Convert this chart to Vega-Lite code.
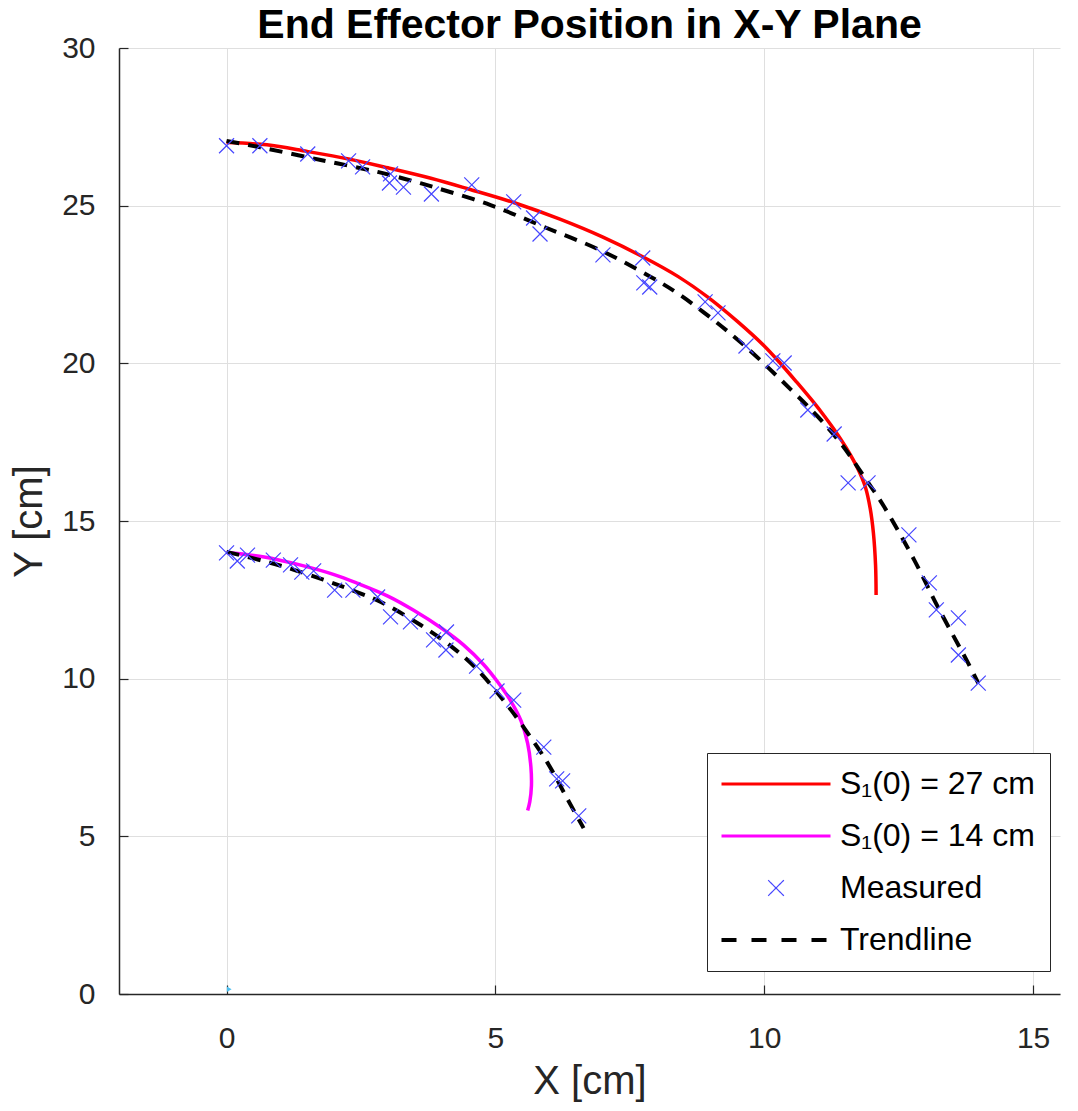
{
  "$schema": "https://vega.github.io/schema/vega-lite/v6.json",
  "autosize": {"type": "none"},
  "padding": {"left": 119, "top": 48, "right": 18, "bottom": 117},
  "width": 941,
  "height": 946,
  "background": "white",
  "title": {"text": "End Effector Position in X-Y Plane", "font": "Liberation Sans", "fontSize": 41, "fontWeight": "bold", "color": "#000000", "anchor": "middle", "frame": "group", "offset": 2, "dy": 16},
  "config": {
    "view": {"stroke": null},
    "axis": {
      "labelFont": "Liberation Sans", "titleFont": "Liberation Sans",
      "labelColor": "#262626", "titleColor": "#262626",
      "labelFontSize": 30, "titleFontSize": 40, "titleFontWeight": "normal",
      "grid": true, "gridColor": "#DFDFDF", "gridWidth": 1,
      "domainColor": "#262626", "domainWidth": 1.5,
      "tickColor": "#262626", "tickSize": -9, "tickWidth": 1.2
    }
  },
  "datasets": {
    "curves": [
      {"series": "S₁(0) = 27 cm", "part": "a", "x": 0, "y": 27.0},
      {"series": "S₁(0) = 27 cm", "part": "a", "x": 0.75, "y": 26.93},
      {"series": "S₁(0) = 27 cm", "part": "a", "x": 1.5, "y": 26.72},
      {"series": "S₁(0) = 27 cm", "part": "a", "x": 2.27, "y": 26.48},
      {"series": "S₁(0) = 27 cm", "part": "a", "x": 3.0, "y": 26.2},
      {"series": "S₁(0) = 27 cm", "part": "a", "x": 3.8, "y": 25.87},
      {"series": "S₁(0) = 27 cm", "part": "a", "x": 4.5, "y": 25.53},
      {"series": "S₁(0) = 27 cm", "part": "a", "x": 5.34, "y": 25.1},
      {"series": "S₁(0) = 27 cm", "part": "a", "x": 6.2, "y": 24.57},
      {"series": "S₁(0) = 27 cm", "part": "a", "x": 7.0, "y": 24.0},
      {"series": "S₁(0) = 27 cm", "part": "a", "x": 7.74, "y": 23.38},
      {"series": "S₁(0) = 27 cm", "part": "a", "x": 8.4, "y": 22.75},
      {"series": "S₁(0) = 27 cm", "part": "a", "x": 8.95, "y": 22.1},
      {"series": "S₁(0) = 27 cm", "part": "a", "x": 9.5, "y": 21.33},
      {"series": "S₁(0) = 27 cm", "part": "a", "x": 10.0, "y": 20.55},
      {"series": "S₁(0) = 27 cm", "part": "a", "x": 10.31, "y": 19.98},
      {"series": "S₁(0) = 27 cm", "part": "a", "x": 10.6, "y": 19.41},
      {"series": "S₁(0) = 27 cm", "part": "a", "x": 10.92, "y": 18.76},
      {"series": "S₁(0) = 27 cm", "part": "a", "x": 11.12, "y": 18.32},
      {"series": "S₁(0) = 27 cm", "part": "a", "x": 11.3, "y": 17.9},
      {"series": "S₁(0) = 27 cm", "part": "a", "x": 11.52, "y": 17.33},
      {"series": "S₁(0) = 27 cm", "part": "a", "x": 11.74, "y": 16.66},
      {"series": "S₁(0) = 27 cm", "part": "a", "x": 11.88, "y": 16.08},
      {"series": "S₁(0) = 27 cm", "part": "a", "x": 11.97, "y": 15.4},
      {"series": "S₁(0) = 27 cm", "part": "a", "x": 12.03, "y": 14.62},
      {"series": "S₁(0) = 27 cm", "part": "a", "x": 12.07, "y": 13.6},
      {"series": "S₁(0) = 27 cm", "part": "a", "x": 12.08, "y": 12.65},
      {"series": "S₁(0) = 14 cm", "part": "b", "x": 0, "y": 14.0},
      {"series": "S₁(0) = 14 cm", "part": "b", "x": 0.7, "y": 13.86},
      {"series": "S₁(0) = 14 cm", "part": "b", "x": 1.38, "y": 13.6},
      {"series": "S₁(0) = 14 cm", "part": "b", "x": 2.0, "y": 13.3},
      {"series": "S₁(0) = 14 cm", "part": "b", "x": 2.44, "y": 13.02},
      {"series": "S₁(0) = 14 cm", "part": "b", "x": 3.0, "y": 12.62},
      {"series": "S₁(0) = 14 cm", "part": "b", "x": 3.48, "y": 12.17},
      {"series": "S₁(0) = 14 cm", "part": "b", "x": 4.0, "y": 11.6},
      {"series": "S₁(0) = 14 cm", "part": "b", "x": 4.4, "y": 11.08},
      {"series": "S₁(0) = 14 cm", "part": "b", "x": 4.78, "y": 10.45},
      {"series": "S₁(0) = 14 cm", "part": "b", "x": 5.04, "y": 9.9},
      {"series": "S₁(0) = 14 cm", "part": "b", "x": 5.3, "y": 9.25},
      {"series": "S₁(0) = 14 cm", "part": "b", "x": 5.48, "y": 8.65},
      {"series": "S₁(0) = 14 cm", "part": "b", "x": 5.6, "y": 7.95},
      {"series": "S₁(0) = 14 cm", "part": "b", "x": 5.66, "y": 7.2},
      {"series": "S₁(0) = 14 cm", "part": "b", "x": 5.67, "y": 6.6},
      {"series": "S₁(0) = 14 cm", "part": "b", "x": 5.64, "y": 6.1},
      {"series": "S₁(0) = 14 cm", "part": "b", "x": 5.6, "y": 5.82},
      {"series": "Trendline", "part": "c", "x": 0, "y": 27.05},
      {"series": "Trendline", "part": "c", "x": 0.63, "y": 26.85},
      {"series": "Trendline", "part": "c", "x": 1.75, "y": 26.45},
      {"series": "Trendline", "part": "c", "x": 2.81, "y": 26.07},
      {"series": "Trendline", "part": "c", "x": 3.42, "y": 25.8},
      {"series": "Trendline", "part": "c", "x": 3.93, "y": 25.55},
      {"series": "Trendline", "part": "c", "x": 4.91, "y": 25.02},
      {"series": "Trendline", "part": "c", "x": 5.9, "y": 24.33},
      {"series": "Trendline", "part": "c", "x": 6.96, "y": 23.58},
      {"series": "Trendline", "part": "c", "x": 7.89, "y": 22.74},
      {"series": "Trendline", "part": "c", "x": 8.39, "y": 22.22},
      {"series": "Trendline", "part": "c", "x": 9.0, "y": 21.45},
      {"series": "Trendline", "part": "c", "x": 9.62, "y": 20.58},
      {"series": "Trendline", "part": "c", "x": 10.5, "y": 19.16},
      {"series": "Trendline", "part": "c", "x": 11.0, "y": 18.3},
      {"series": "Trendline", "part": "c", "x": 11.43, "y": 17.45},
      {"series": "Trendline", "part": "c", "x": 11.86, "y": 16.4},
      {"series": "Trendline", "part": "c", "x": 12.23, "y": 15.45},
      {"series": "Trendline", "part": "c", "x": 12.79, "y": 13.76},
      {"series": "Trendline", "part": "c", "x": 13.23, "y": 12.27},
      {"series": "Trendline", "part": "c", "x": 13.79, "y": 10.5},
      {"series": "Trendline", "part": "c", "x": 13.98, "y": 9.86},
      {"series": "Trendline", "part": "d", "x": 0, "y": 14.02},
      {"series": "Trendline", "part": "d", "x": 0.58, "y": 13.78},
      {"series": "Trendline", "part": "d", "x": 1.13, "y": 13.52},
      {"series": "Trendline", "part": "d", "x": 1.8, "y": 13.14},
      {"series": "Trendline", "part": "d", "x": 2.31, "y": 12.82},
      {"series": "Trendline", "part": "d", "x": 2.87, "y": 12.43},
      {"series": "Trendline", "part": "d", "x": 3.61, "y": 11.7},
      {"series": "Trendline", "part": "d", "x": 4.22, "y": 10.97},
      {"series": "Trendline", "part": "d", "x": 4.67, "y": 10.28},
      {"series": "Trendline", "part": "d", "x": 5.1, "y": 9.42},
      {"series": "Trendline", "part": "d", "x": 5.47, "y": 8.59},
      {"series": "Trendline", "part": "d", "x": 5.97, "y": 7.33},
      {"series": "Trendline", "part": "d", "x": 6.35, "y": 6.15},
      {"series": "Trendline", "part": "d", "x": 6.64, "y": 5.26}
    ],
    "measured": [
      {"series": "Measured", "x": 0.0, "y": 26.9},
      {"series": "Measured", "x": 0.62, "y": 26.9},
      {"series": "Measured", "x": 1.51, "y": 26.64},
      {"series": "Measured", "x": 2.27, "y": 26.42},
      {"series": "Measured", "x": 2.53, "y": 26.23},
      {"series": "Measured", "x": 3.05, "y": 26.01},
      {"series": "Measured", "x": 3.03, "y": 25.72},
      {"series": "Measured", "x": 3.29, "y": 25.59},
      {"series": "Measured", "x": 3.81, "y": 25.37},
      {"series": "Measured", "x": 4.56, "y": 25.66},
      {"series": "Measured", "x": 5.34, "y": 25.12},
      {"series": "Measured", "x": 5.71, "y": 24.61},
      {"series": "Measured", "x": 5.83, "y": 24.1},
      {"series": "Measured", "x": 7.0, "y": 23.44},
      {"series": "Measured", "x": 7.74, "y": 23.34},
      {"series": "Measured", "x": 7.76, "y": 22.55},
      {"series": "Measured", "x": 7.87, "y": 22.42},
      {"series": "Measured", "x": 8.9, "y": 21.95},
      {"series": "Measured", "x": 9.14, "y": 21.6},
      {"series": "Measured", "x": 9.66, "y": 20.55},
      {"series": "Measured", "x": 10.16, "y": 20.08},
      {"series": "Measured", "x": 10.37, "y": 20.01},
      {"series": "Measured", "x": 10.81, "y": 18.52},
      {"series": "Measured", "x": 11.3, "y": 17.76},
      {"series": "Measured", "x": 11.56, "y": 16.21},
      {"series": "Measured", "x": 11.93, "y": 16.21},
      {"series": "Measured", "x": 12.69, "y": 14.56},
      {"series": "Measured", "x": 13.07, "y": 13.04},
      {"series": "Measured", "x": 13.2, "y": 12.18},
      {"series": "Measured", "x": 13.61, "y": 11.93},
      {"series": "Measured", "x": 13.61, "y": 10.75},
      {"series": "Measured", "x": 13.98, "y": 9.86},
      {"series": "Measured", "x": 0.0, "y": 13.99},
      {"series": "Measured", "x": 0.2, "y": 13.73},
      {"series": "Measured", "x": 0.39, "y": 13.92},
      {"series": "Measured", "x": 0.87, "y": 13.76},
      {"series": "Measured", "x": 1.19, "y": 13.61},
      {"series": "Measured", "x": 1.4, "y": 13.38},
      {"series": "Measured", "x": 1.62, "y": 13.42},
      {"series": "Measured", "x": 2.01, "y": 12.81},
      {"series": "Measured", "x": 2.35, "y": 12.81},
      {"series": "Measured", "x": 2.81, "y": 12.59},
      {"series": "Measured", "x": 3.05, "y": 11.96},
      {"series": "Measured", "x": 3.42, "y": 11.8},
      {"series": "Measured", "x": 4.09, "y": 11.48},
      {"series": "Measured", "x": 3.85, "y": 11.23},
      {"series": "Measured", "x": 4.08, "y": 10.91},
      {"series": "Measured", "x": 4.65, "y": 10.4},
      {"series": "Measured", "x": 5.03, "y": 9.61},
      {"series": "Measured", "x": 5.34, "y": 9.32},
      {"series": "Measured", "x": 5.9, "y": 7.83},
      {"series": "Measured", "x": 6.14, "y": 6.82},
      {"series": "Measured", "x": 6.25, "y": 6.76},
      {"series": "Measured", "x": 6.55, "y": 5.65}
    ],
    "origin": [{"x": 0.05, "y": 0.15}]
  },
  "encoding": {
    "x": {"field": "x", "type": "quantitative", "scale": {"domain": [-2, 15.5], "nice": false, "zero": false},
      "axis": {"values": [0, 5, 10, 15], "title": "X [cm]", "labelPadding": 38, "titlePadding": 8}},
    "y": {"field": "y", "type": "quantitative", "scale": {"domain": [0, 30], "nice": false},
      "axis": {"values": [0, 5, 10, 15, 20, 25, 30], "title": "Y [cm]", "labelPadding": 33, "titlePadding": 12}}
  },
  "layer": [
    {
      "data": {"name": "curves"},
      "transform": [{"filter": "datum.series !== 'Trendline'"}],
      "mark": {"type": "line", "strokeWidth": 3.5, "strokeCap": "butt", "interpolate": "catmull-rom"},
      "encoding": {
        "detail": {"field": "part"},
        "order": {"value": null},
        "color": {"field": "series", "type": "nominal",
          "scale": {"domain": ["S₁(0) = 27 cm", "S₁(0) = 14 cm", "Measured", "Trendline"], "range": ["#FF0000", "#FF00FF", "#4646FF", "#000000"]},
          "legend": {
            "title": null, "orient": "none", "legendX": 588, "legendY": 705,
            "padding": 15, "rowPadding": 20, "symbolSize": 400, "symbolOffset": 38, "labelOffset": 48,
            "labelFont": "Liberation Sans", "labelFontSize": 32, "labelColor": "#000000", "labelLimit": 400,
            "strokeColor": "#262626", "fillColor": "white", "cornerRadius": 0,
            "encode": {"symbols": {"update": {
              "shape": {"signal": "datum.value === 'Measured' ? 'M-0.78,-0.78L0.78,0.78M-0.78,0.78L0.78,-0.78' : 'M-5.45,0L5.45,0'"},
              "strokeDash": {"signal": "datum.value === 'Trendline' ? [15,15] : [1,0]"},
              "strokeWidth": {"signal": "datum.value === 'Measured' ? 1.2 : (datum.value === 'Trendline' ? 4 : 3)"},
              "stroke": {"signal": "scale('color', datum.value)"},
              "fill": {"value": "transparent"},
              "opacity": {"value": 1}
            }}}
          }
        }
      }
    },
    {
      "data": {"name": "curves"},
      "transform": [{"filter": "datum.series === 'Trendline'"}],
      "mark": {"type": "line", "strokeWidth": 4, "strokeDash": [13, 9], "strokeCap": "butt", "interpolate": "catmull-rom"},
      "encoding": {
        "detail": {"field": "part"},
        "order": {"value": null},
        "color": {"field": "series", "type": "nominal"}
      }
    },
    {
      "data": {"name": "measured"},
      "mark": {"type": "point", "shape": "M-1,-1L1,1M-1,1L1,-1", "size": 225, "filled": false, "strokeWidth": 1.2, "opacity": 1},
      "encoding": {
        "color": {"field": "series", "type": "nominal"}
      }
    },
    {
      "data": {"name": "origin"},
      "mark": {"type": "point", "shape": "triangle-right", "size": 30, "filled": true, "color": "#4DBEEE", "opacity": 1},
      "encoding": {}
    }
  ]
}
